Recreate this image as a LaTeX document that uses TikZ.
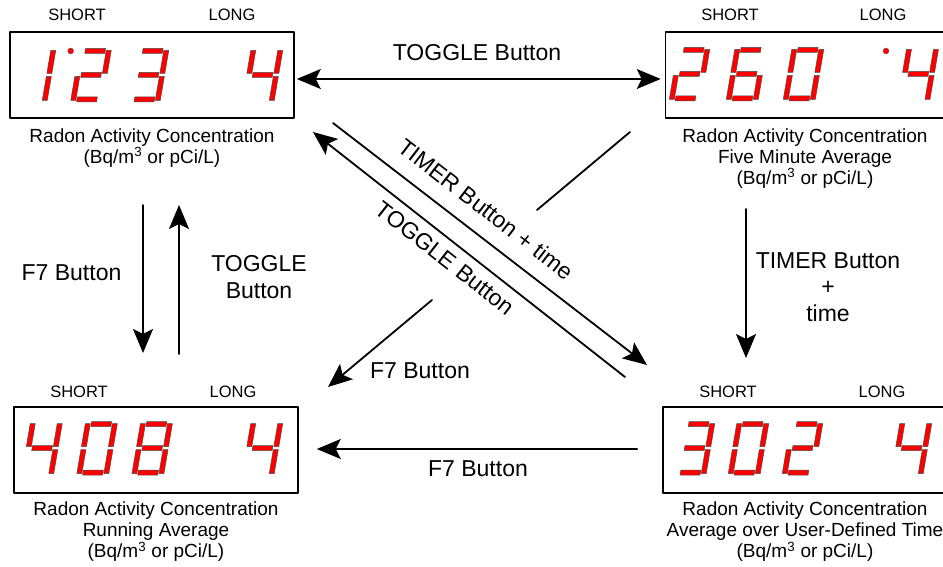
\documentclass[tikz,border=0pt]{standalone}
\usepackage{fontspec}
\setmainfont{Liberation Sans}
\usetikzlibrary{arrows.meta}
\usetikzlibrary{positioning}

\begin{document}
\begin{tikzpicture}[line cap=round,line join=round, x=1pt,y=1pt,
  >={Stealth[length=24pt, width=20pt, inset=5pt]},
  display/.style={draw, line width=1.6pt, minimum width=284pt, minimum height=86pt, inner sep=0pt},
  caption/.style={align=center, inner sep=0pt, font=\fontsize{19}{21}\selectfont},
  tag/.style={font=\fontsize{16.5}{18}\selectfont},
  lbl/.style={align=center, font=\fontsize{23}{26.5}\selectfont},
  arr/.style={line width=1.8pt, ->},
  seg/.style={fill=red, draw=black!70, line width=0.5pt},
  dp/.style={fill=red, draw=black!60, line width=0.4pt},
  pics/sga/.style={code={\path[seg] (6,48.5) rectangle (26,53.5);}},
  pics/sgb/.style={code={\path[seg] (27,28.5) rectangle (32,51.5);}},
  pics/sgc/.style={code={\path[seg] (27,1.5) rectangle (32,25.5);}},
  pics/sgd/.style={code={\path[seg] (6,0) rectangle (26,5);}},
  pics/sge/.style={code={\path[seg] (0,1.5) rectangle (5,25.5);}},
  pics/sgf/.style={code={\path[seg] (0,28.5) rectangle (5,51.5);}},
  pics/sgg/.style={code={\path[seg] (6,24.5) rectangle (26,29.5);}},
  pics/digit/.style={code={\begin{scope}[xslant=0.17]
    \foreach \s in {#1} {\pic[transform shape] {sg\s};}
    \end{scope}}}]
\clip (0,0) rectangle (943,566);

% displays
\node[display] (conc) at (152,491) {};
\node[display, minimum width=290pt] (fivemin) at (810.5,491) {};
\node[display] (running) at (156,116) {};
\node[display, minimum width=290pt] (userdef) at (808,116) {};

\node[tag] (conc-short) at (77,551) {SHORT};
\node[tag] (conc-long) at (232,551) {LONG};
\node[tag] (fivemin-short) at (730,551) {SHORT};
\node[tag] (fivemin-long) at (883,551) {LONG};
\node[tag] (running-short) at (79,174) {SHORT};
\node[tag] (running-long) at (233,174) {LONG};
\node[tag] (userdef-short) at (728,174) {SHORT};
\node[tag] (userdef-long) at (882,174) {LONG};

\node[caption, below=9.5pt of conc] (conc-cap) {Radon Activity Concentration\\(Bq/m\textsuperscript{3} or pCi/L)};
\node[caption, below=9.5pt of fivemin, xshift=-5.5pt] (fivemin-cap) {Radon Activity Concentration\\Five Minute Average\\(Bq/m\textsuperscript{3} or pCi/L)};
\node[caption, below=8pt of running] (running-cap) {Radon Activity Concentration\\Running Average\\(Bq/m\textsuperscript{3} or pCi/L)};
\node[caption, below=8pt of userdef, xshift=-3pt] (userdef-cap) {Radon Activity Concentration\\Average over User-Defined Time\\(Bq/m\textsuperscript{3} or pCi/L)};

% digits
\pic at (15,464) {digit={b,c}};
\fill[dp] (70.7,515) circle (3pt);
\pic at (70.5,464) {digit={a,b,g,e,d}};
\pic at (128,464) {digit={a,b,g,c,d}};
\pic at (242,464) {digit={f,g,b,c}};

\pic at (669,465) {digit={a,b,g,e,d}};
\pic at (726,465) {digit={a,f,g,e,c,d}};
\pic at (783,465) {digit={a,b,c,d,e,f}};
\fill[dp] (886,515) circle (3pt);
\pic at (897.7,465) {digit={f,g,b,c}};

\pic at (21.5,91) {digit={f,g,b,c}};
\pic at (76.6,91) {digit={a,b,c,d,e,f}};
\pic at (131.7,91) {digit={a,b,c,d,e,f,g}};
\pic at (242,91) {digit={f,g,b,c}};

\pic at (674,91) {digit={a,b,g,c,d}};
\pic at (728,91) {digit={a,b,c,d,e,f}};
\pic at (782,91) {digit={a,b,g,e,d}};
\pic at (891,91) {digit={f,g,b,c}};

% arrow ends
\coordinate (f7-a) at (143,361);
\coordinate (f7-b) at (143,213);
\coordinate (tgl-a) at (179,212);
\coordinate (tgl-b) at (179,361);
\coordinate (tmr-a) at (746,357);
\coordinate (tmr-b) at (746,208);
\coordinate (tmd-a) at (333,443);
\coordinate (tmd-b) at (647,201);
\coordinate (tgd-a) at (625,189);
\coordinate (tgd-b) at (313,434);
\coordinate (f7d-a) at (630,434);
\coordinate (f7d-b) at (537,356);
\coordinate (f7d-c) at (432,266);
\coordinate (f7d-d) at (328,179);

% connectors
\draw[arr, <->, shorten <=2pt, shorten >=4pt] ([yshift=-4pt]conc.east) -- ([yshift=-4pt]fivemin.west);
\draw[arr, shorten <=25pt, shorten >=18pt] ([yshift=1pt]userdef.west) -- ([yshift=1pt]running.east);
\draw[arr] (f7-a) -- (f7-b);
\draw[arr] (tgl-a) -- (tgl-b);
\draw[arr] (tmr-a) -- (tmr-b);
\draw[arr] (tmd-a) -- (tmd-b);
\draw[arr] (tgd-a) -- (tgd-b);
\draw[line width=1.8pt] (f7d-a) -- (f7d-b);
\draw[arr] (f7d-c) -- (f7d-d);

% labels
\node[lbl] (lbl-top) at (477,513) {TOGGLE Button};
\node[lbl] (lbl-f7l) at (71.5,293) {F7 Button};
\node[lbl] (lbl-tgl) at (259,289) {TOGGLE\\Button};
\node[lbl] (lbl-tmr) at (828,279) {TIMER Button\\+\\time};
\node[lbl, rotate=-37.6] (lbl-tmd) at (486,357) {TIMER Button + time};
\node[lbl, rotate=-38.1] (lbl-tgd) at (445,308) {TOGGLE Button};
\node[lbl] (lbl-f7d) at (420,195) {F7 Button};
\node[lbl] (lbl-f7b) at (478,97) {F7 Button};
\end{tikzpicture}
\end{document}
